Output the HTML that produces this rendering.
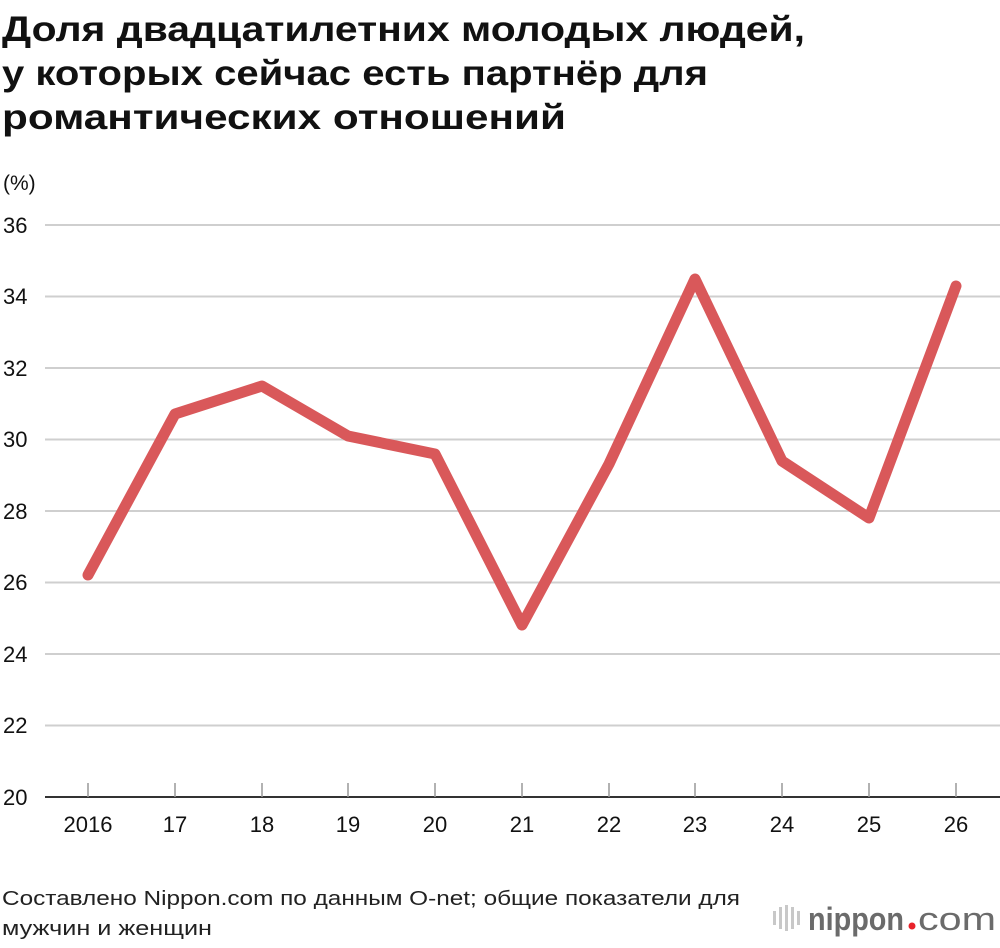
<!DOCTYPE html>
<html><head><meta charset="utf-8"><style>
body{margin:0;width:1000px;height:948px;background:#fff;overflow:hidden;font-family:"Liberation Sans","DejaVu Sans",sans-serif;}
</style></head><body>
<svg width="1000" height="948" xmlns="http://www.w3.org/2000/svg" style="position:absolute;left:0;top:0">
<g font-family="Liberation Sans, DejaVu Sans, sans-serif">
<text x="2" y="41" font-size="35" font-weight="bold" fill="#111" textLength="803" lengthAdjust="spacingAndGlyphs">Доля двадцатилетних молодых людей,</text>
<text x="2" y="85" font-size="35" font-weight="bold" fill="#111" textLength="706" lengthAdjust="spacingAndGlyphs">у которых сейчас есть партнёр для</text>
<text x="2" y="129" font-size="35" font-weight="bold" fill="#111" textLength="564" lengthAdjust="spacingAndGlyphs">романтических отношений</text>
<text x="3" y="190" font-size="21" fill="#111">(%)</text>
<g stroke="#cfcfcf" stroke-width="2">
<line x1="45" x2="1000" y1="225" y2="225"/><line x1="45" x2="1000" y1="296.5" y2="296.5"/>
<line x1="45" x2="1000" y1="368" y2="368"/><line x1="45" x2="1000" y1="439.5" y2="439.5"/>
<line x1="45" x2="1000" y1="511" y2="511"/><line x1="45" x2="1000" y1="582.5" y2="582.5"/>
<line x1="45" x2="1000" y1="654" y2="654"/><line x1="45" x2="1000" y1="725.5" y2="725.5"/>
</g>
<line x1="45" x2="1000" y1="797" y2="797" stroke="#333" stroke-width="2"/>
<g stroke="#999" stroke-width="1.5">
<line x1="88" x2="88" y1="783" y2="797"/><line x1="175" x2="175" y1="783" y2="797"/><line x1="262" x2="262" y1="783" y2="797"/><line x1="348" x2="348" y1="783" y2="797"/><line x1="435" x2="435" y1="783" y2="797"/><line x1="522" x2="522" y1="783" y2="797"/><line x1="609" x2="609" y1="783" y2="797"/><line x1="695" x2="695" y1="783" y2="797"/><line x1="782" x2="782" y1="783" y2="797"/><line x1="869" x2="869" y1="783" y2="797"/><line x1="956" x2="956" y1="783" y2="797"/>
</g>
<g font-size="22" fill="#111">
<text x="3" y="233">36</text><text x="3" y="304">34</text><text x="3" y="376">32</text><text x="3" y="447">30</text>
<text x="3" y="519">28</text><text x="3" y="590">26</text><text x="3" y="662">24</text><text x="3" y="733">22</text><text x="3" y="805">20</text>
</g>
<g font-size="22" fill="#111" text-anchor="middle">
<text x="88" y="832">2016</text><text x="175" y="832">17</text><text x="262" y="832">18</text><text x="348" y="832">19</text><text x="435" y="832">20</text><text x="522" y="832">21</text><text x="609" y="832">22</text><text x="695" y="832">23</text><text x="782" y="832">24</text><text x="869" y="832">25</text><text x="956" y="832">26</text>
</g>
<polyline fill="none" stroke="#d9585a" stroke-width="11" stroke-linejoin="round" stroke-linecap="round"
points="88,575 175,414 262,386 348,436 435,454 522,625 609,464 695,279 782,461 869,518 956,286"/>
<text x="2" y="905" font-size="20" fill="#222" textLength="738" lengthAdjust="spacingAndGlyphs">Составлено Nippon.com по данным O-net; общие показатели для</text>
<text x="2" y="935" font-size="20" fill="#222" textLength="210" lengthAdjust="spacingAndGlyphs">мужчин и женщин</text>
<g fill="#c8c8c8">
<rect x="773" y="911" width="3" height="14"/><rect x="779" y="907" width="3" height="22"/><rect x="785" y="905" width="3" height="26"/><rect x="791" y="907" width="3" height="22"/><rect x="797" y="911" width="3" height="14"/>
</g>
<text x="808" y="930" font-size="32" font-weight="bold" fill="#6b6b6b" textLength="96" lengthAdjust="spacingAndGlyphs">nippon</text>
<circle cx="928" cy="926" r="3.5" fill="#e8222a" transform="translate(-16 0)"/>
<text x="918" y="930" font-size="32" fill="#6b6b6b" textLength="78" lengthAdjust="spacingAndGlyphs">com</text>
</g>
</svg>
</body></html>
